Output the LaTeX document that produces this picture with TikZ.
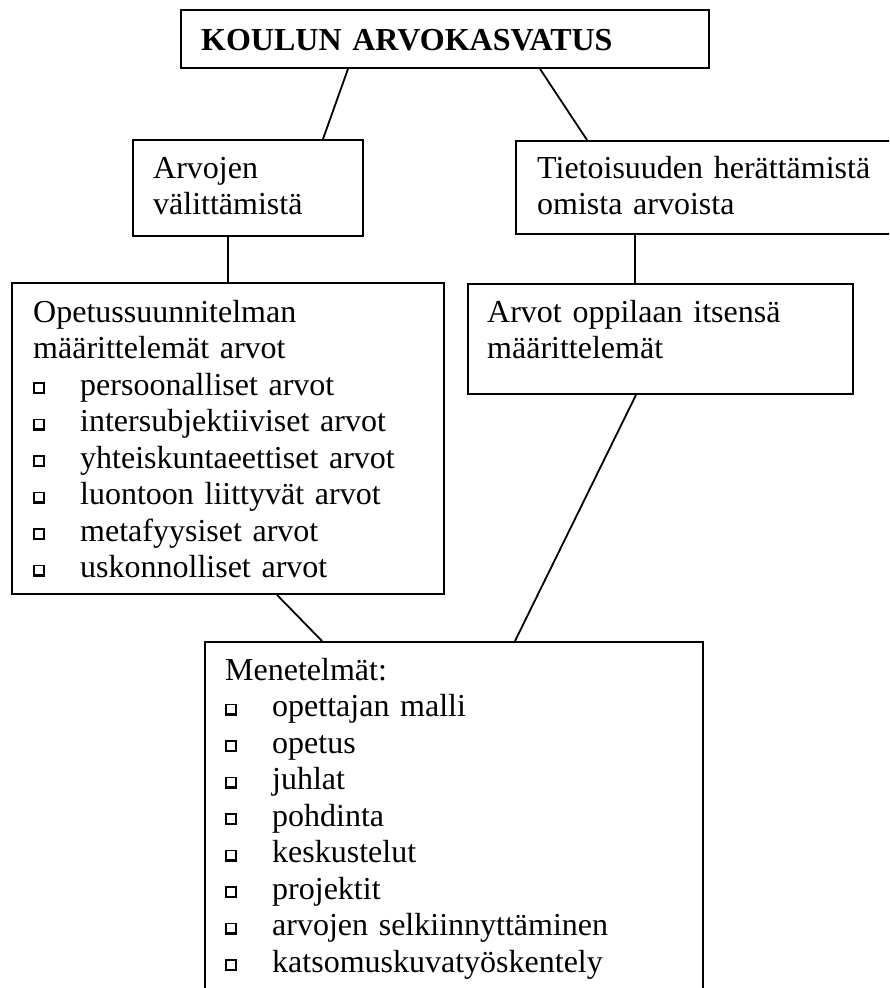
\documentclass[tikz,border=0pt]{standalone}
\usepackage{fontspec}
\setmainfont{Liberation Serif}
\newcommand\chk{\raisebox{1pt}{\hbox{\vrule width1.3pt\vbox{\hrule height1.3pt\hbox to 8.5pt{\vrule height8pt width0pt\hfil}\hrule height2.4pt}\vrule width2.4pt}}}
\newcommand\itm[1]{\makebox[47pt][l]{\chk}#1}

\begin{document}
\begin{tikzpicture}[x=1pt, y=-1pt,
  font=\fontsize{32}{36.5}\selectfont,
  box/.style={draw, line width=1.9pt, anchor=north west, inner sep=0pt},
  txt/.style={anchor=base west, inner sep=0pt, text width=420pt, align=left},
  link/.style={line width=1.8pt}]
  \clip (0,0) rectangle (889,988);
  \node[box, minimum width=528pt, minimum height=58pt] (top) at (180,9) {};
  \node[box, minimum width=230pt, minimum height=96pt] (arv) at (132,139) {};
  \node[box, minimum width=400pt, minimum height=93pt] (tie) at (515,140) {};
  \node[box, minimum width=432pt, minimum height=311pt] (ope) at (11,282) {};
  \node[box, minimum width=385pt, minimum height=110pt] (opp) at (467,283) {};
  \node[box, minimum width=498pt, minimum height=400pt] (men) at (204,641) {};
  \node[txt] (toptxt) at ([shift={(21,41)}]top.north west) {\textbf{KOULUN ARVOKASVATUS}};
  \node[txt] (arvtxt) at ([shift={(21,39)}]arv.north west) {Arvojen\\välittämistä};
  \node[txt] (tietxt) at ([shift={(22,38)}]tie.north west) {Tietoisuuden herättämistä\\omista arvoista};
  \node[txt] (opetxt) at ([shift={(22,40)}]ope.north west) {Opetussuunnitelman\\määrittelemät arvot\\
    \itm{persoonalliset arvot}\\\itm{intersubjektiiviset arvot}\\\itm{yhteiskuntaeettiset arvot}\\
    \itm{luontoon liittyvät arvot}\\\itm{metafyysiset arvot}\\\itm{uskonnolliset arvot}};
  \node[txt] (opptxt) at ([shift={(20,39)}]opp.north west) {Arvot oppilaan itsensä\\määrittelemät};
  \node[txt] (mentxt) at ([shift={(21,39)}]men.north west) {Menetelmät:\\
    \itm{opettajan malli}\\\itm{opetus}\\\itm{juhlat}\\\itm{pohdinta}\\\itm{keskustelut}\\
    \itm{projektit}\\\itm{arvojen selkiinnyttäminen}\\\itm{katsomuskuvatyöskentely}};
  \draw[link] ([xshift=168pt]top.south west) -- ([xshift=191pt]arv.north west);
  \draw[link] ([xshift=360pt]top.south west) -- ([xshift=72pt]tie.north west);
  \draw[link] ([xshift=96pt]arv.south west) -- ([xshift=96pt]ope.north west -| arv.south west);
  \draw[link] ([xshift=120pt]tie.south west) -- ([xshift=168pt]opp.north west);
  \draw[link] ([xshift=266pt]ope.south west) -- ([xshift=118pt]men.north west);
  \draw[link] ([xshift=169pt]opp.south west) -- ([xshift=311pt]men.north west);
\end{tikzpicture}
\end{document}
